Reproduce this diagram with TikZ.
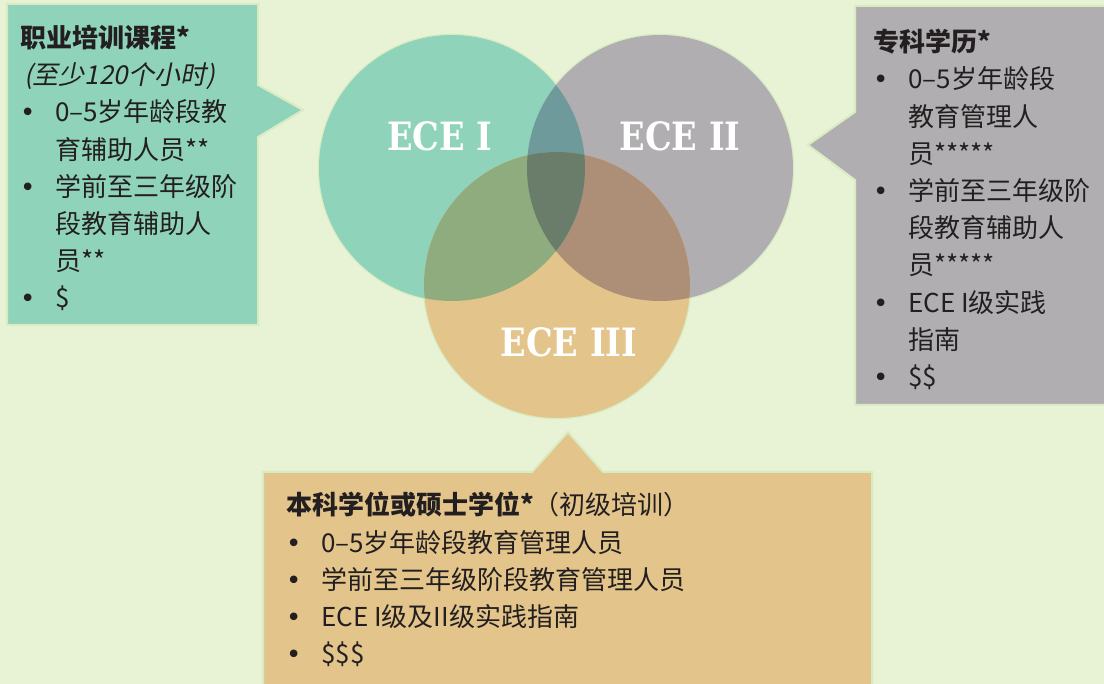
\documentclass[tikz,border=0pt]{standalone}
\usepackage{fontspec}
\usepackage{tikz}
\setmainfont{Noto Sans CJK SC}
\newfontfamily\slantcjk[FakeSlant=0.2]{Noto Sans CJK SC}
\newfontfamily\bulfont{DejaVu Sans}
\newfontfamily\slabfont[FakeStretch=0.86,
    BoldFont={DejaVu Serif Bold}]{DejaVu Serif}

\definecolor{bgcol}{HTML}{E8F2D4}
\definecolor{rimcol}{HTML}{D8EBC2}
\definecolor{inkcol}{HTML}{231F20}
\definecolor{greencol}{HTML}{8FD3BB}
\definecolor{graycol}{HTML}{B0AEB1}
\definecolor{tancol}{HTML}{E3C48B}
\definecolor{greengray}{HTML}{6E9A9C}
\definecolor{greentan}{HTML}{8FAC7E}
\definecolor{graytan}{HTML}{AD8F78}
\definecolor{allthree}{HTML}{6A7C6A}

\newcommand{\itm}{\makebox[35pt][l]{\bulfont •}}
\newcommand{\gap}{\hspace*{35pt}}

\tikzset{
    callout/.style={
           draw=rimcol,
           line width=2pt,
           line join=miter,
           },
    rim/.style={
           draw=rimcol,
           line width=2.5pt,
           },
    blurb/.style={
           anchor=north west,
           align=left,
           inner sep=0pt,
           text=inkcol,
           font=\fontsize{26}{37.2}\selectfont,
           },
    ecelabel/.style={
           text=white,
           inner sep=0pt,
           font=\slabfont\bfseries\fontsize{39}{39}\selectfont,
           },
}

\begin{document}
\begin{tikzpicture}[x=1pt,y=-1pt]
    \useasboundingbox[fill=bgcol] (0,0) rectangle (1104,684);

    % centres of the three circles
    \coordinate (eceI)   at (452,168);
    \coordinate (eceII)  at (660,168);
    \coordinate (eceIII) at (557,285);

    % pale rims first, the fills cover their inner halves
    \foreach \c in {eceI,eceII,eceIII}
        \draw[rim] (\c) circle[radius=133pt];

    \fill[greencol] (eceI)   circle[radius=133pt];
    \fill[graycol]  (eceII)  circle[radius=133pt];
    \fill[tancol]   (eceIII) circle[radius=133pt];

    % overlaps
    \begin{scope}
        \clip (eceII) circle[radius=133pt];
        \fill[graytan] (eceIII) circle[radius=133pt];
    \end{scope}
    \begin{scope}
        \clip (eceI) circle[radius=133pt];
        \fill[greengray] (eceII)  circle[radius=133pt];
        \fill[greentan]  (eceIII) circle[radius=133pt];
        \clip (eceII) circle[radius=133pt];
        \fill[allthree]  (eceIII) circle[radius=133pt];
    \end{scope}

    \node[ecelabel] (labI)   at (440,136) {ECE I};
    \node[ecelabel] (labII)  at (680,136) {ECE II};
    \node[ecelabel] (labIII) at (569,342) {ECE III};

    % callout boxes, pointer towards the circles
    \fill[greencol, callout] (7,4) -- (258,4) -- (258,85) -- (303,110)
        -- (258,137) -- (258,325) -- (7,325) -- cycle;
    \fill[graycol, callout] (855,6) -- (1110,6) -- (1110,405) -- (855,405)
        -- (855,180) -- (808,145) -- (855,112) -- cycle;
    \fill[tancol, callout] (263,472) -- (532,472) -- (568,432) -- (603,472)
        -- (872,472) -- (872,690) -- (263,690) -- cycle;

    % Box: vocational course
    \node[blurb] (vocText) at (20,25) {%
        \textbf{职业培训课程*}\\
        \hspace*{4pt}{\slantcjk (至少120个小时)}\\
        \itm 0–5岁年龄段教\\
        \gap 育辅助人员**\\
        \itm 学前至三年级阶\\
        \gap 段教育辅助人\\
        \gap 员**\\
        \itm \$
    };

    % Box: diploma
    \node[blurb] (dipText) at (873,29) {%
        \textbf{专科学历*}\\
        \itm 0–5岁年龄段\\
        \gap 教育管理人\\
        \gap 员*****\\
        \itm 学前至三年级阶\\
        \gap 段教育辅助人\\
        \gap 员*****\\
        \itm ECE I级实践\\
        \gap 指南\\
        \itm \$\$
    };

    % Box: degree
    \node[blurb] (degText) at (286,492) {%
        \textbf{本科学位或硕士学位*}（初级培训）\\
        \itm 0–5岁年龄段教育管理人员\\
        \itm 学前至三年级阶段教育管理人员\\
        \itm ECE I级及II级实践指南\\
        \itm \$\$\$
    };
\end{tikzpicture}
\end{document}
